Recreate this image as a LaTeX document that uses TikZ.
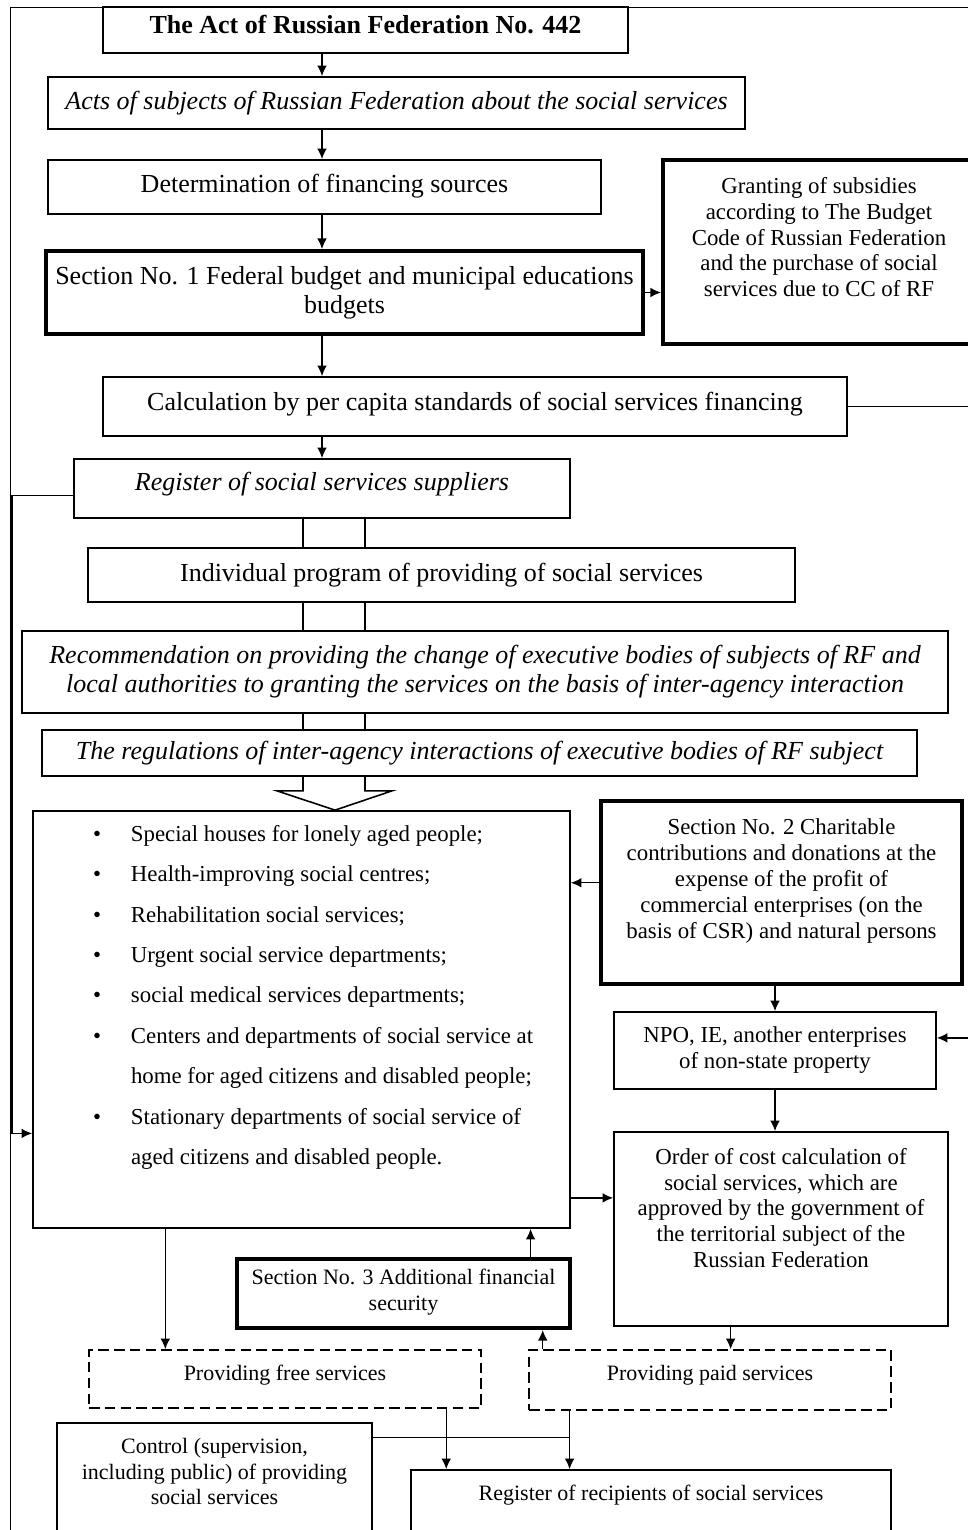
\documentclass[tikz,border=0pt]{standalone}
\usepackage{fontspec}
\setmainfont{Liberation Serif}
\usetikzlibrary{arrows.meta}
\usetikzlibrary{calc}

\newlength\pxu
\setlength\pxu{0.02cm}
\newcommand\mainsize{\fontsize{14.8}{16.5}\selectfont}
\newcommand\sidesize{\fontsize{13}{14.7}\selectfont}
\newcommand\smallsize{\fontsize{12.5}{14.5}\selectfont}
\newcommand\listsize{\fontsize{13}{23}\selectfont}
\newcommand\lift[1]{\rule[-#1]{0pt}{0pt}}

\tikzset{
    frame line/.style={
        line width=0.5pt,
    },
    plain box/.style={
        draw,
        line width=1pt,
        inner sep=1pt,
        align=center,
        font=\mainsize,
    },
    italic box/.style={
        plain box,
        font=\itshape\mainsize,
    },
    thick box/.style={
        plain box,
        line width=2.3pt,
    },
    dashed box/.style={
        plain box,
        line width=1pt,
        dash pattern=on 6pt off 3pt,
        font=\smallsize,
    },
    list box/.style={
        draw,
        line width=1pt,
        inner sep=0pt,
        font=\listsize,
    },
    box size/.style 2 args={
        minimum width=#1*\pxu,
        minimum height=#2*\pxu,
    },
    link/.style={
        line width=0.7pt,
    },
    flow/.style={
        link,
        -{Latex[length=6pt,width=5.5pt]},
    },
}

\begin{document}
\begin{tikzpicture}[x=0.02cm, y=-0.02cm]

    \useasboundingbox (0,0) rectangle (967,1530);

    \draw[frame line] (10,1540) -- (10,7) -- (980,7);

    \node[plain box, box size={525}{46}, font=\bfseries\mainsize] (act) at (365.5,30)
        {The Act of Russian Federation No. 442\lift{6pt}};
    \node[italic box, box size={697}{52}] (acts) at (396.5,103)
        {Acts of subjects of Russian Federation about the social services\lift{2pt}};
    \node[plain box, box size={553}{54}] (determ) at (324.5,187)
        {Determination of financing sources\lift{4.5pt}};
    \node[thick box, box size={597}{83}] (sec1) at (344.5,292.5)
        {Section No. 1 Federal budget and municipal educations\\ budgets};
    \node[thick box, box size={312}{184}, font=\sidesize] (grant) at (819,252)
        {Granting of subsidies\\ according to The Budget\\ Code of Russian Federation\\
         and the purchase of social\\ services due to CC of RF\lift{17pt}};
    \node[plain box, box size={744}{59}] (calc) at (475,406.5)
        {Calculation by per capita standards of social services financing\lift{6pt}};
    \node[italic box, box size={496}{59}] (regsup) at (322,488.5)
        {Register of social services suppliers\lift{8.5pt}};
    \node[plain box, box size={707}{54}] (indiv) at (441.5,575)
        {Individual program of providing of social services\lift{3pt}};
    \node[italic box, box size={926}{82}] (recom) at (485,672)
        {Recommendation on providing the change of executive bodies of subjects of RF and\\
         local authorities to granting the services on the basis of inter-agency interaction};
    \node[italic box, box size={875}{46}] (regul) at (479.5,753)
        {The regulations of inter-agency interactions of executive bodies of RF subject};

    \node[list box, box size={537}{417}] (main) at (301.5,1019.5) {%
        \begin{tabular}{@{\hspace{60\pxu}}p{38\pxu}@{}p{439\pxu}@{}}
        \textbullet & Special houses for lonely aged people;\\
        \textbullet & Health-improving social centres;\\
        \textbullet & Rehabilitation social services;\\
        \textbullet & Urgent social service departments;\\
        \textbullet & social medical services departments;\\
        \textbullet & Centers and departments of social service at\\
                    & home for aged citizens and disabled people;\\
        \textbullet & Stationary departments of social service of\\
                    & aged citizens and disabled people.\\[28pt]
        \end{tabular}};

    \node[thick box, box size={361}{183}, font=\sidesize] (sec2) at (781.5,892.5)
        {Section No. 2 Charitable\\ contributions and donations at the\\ expense of the profit of\\
         commercial enterprises (on the\\ basis of CSR) and natural persons\lift{16pt}};
    \node[plain box, box size={322}{77}, font=\sidesize] (npo) at (775,1050.5)
        {NPO, IE, another enterprises\\ of non-state property\lift{3pt}};
    \node[plain box, box size={334}{194}, font=\sidesize] (order) at (781,1229)
        {Order of cost calculation of\\ social services, which are\\ approved by the government of\\
         the territorial subject of the\\ Russian Federation\lift{24pt}};
    \node[thick box, box size={333}{69}, font=\smallsize] (sec3) at (403.5,1293.5)
        {Section No. 3 Additional financial\\ security\lift{4pt}};
    \node[dashed box, box size={392}{58}] (free) at (285,1379)
        {Providing free services\lift{7pt}};
    \node[dashed box, box size={362}{60}] (paid) at (710,1380)
        {Providing paid services\lift{8pt}};
    \node[plain box, box size={315}{122}, font=\smallsize] (control) at (214.5,1484)
        {Control (supervision,\\ including public) of providing\\ social services\lift{14pt}};
    \node[plain box, box size={480}{75}, font=\smallsize] (recip) at (651,1507.5)
        {Register of recipients of social services\lift{16.5pt}};

    \coordinate (spine) at (322,0);
    \coordinate (rail) at (975,0);
    \coordinate (leftrail) at (12,0);
    \coordinate (pl) at (303,0);
    \coordinate (pr) at (365,0);
    \coordinate (tip) at (335,0);

    \foreach \a/\b in {act/acts, acts/determ, determ/sec1, sec1/calc, calc/regsup}
    {
        \draw[flow] (\a.south -| spine) -- (\b.north -| spine);
    }

    \draw[flow] (sec1.east) -- (sec1.east -| grant.west);

    \foreach \p in {pl,pr}
    {
        \foreach \a/\b in {regsup/indiv, indiv/recom, recom/regul}
        {
            \draw[link] (\a.south -| \p) -- (\b.north -| \p);
        }
    }

    \draw[link, line width=0.9pt] (pl |- regul.south) -- ++(0,14) -- ++(-26,0)
        -- (tip |- main.north) -- ($(pr |- regul.south)+(27,14)$) -- ++(-27,0)
        -- (pr |- regul.south);

    \coordinate (regout) at ($(regsup.north west)!0.61!(regsup.south west)$);
    \coordinate (mainin) at ($(main.north west)!0.772!(main.south west)$);
    \draw[flow] (regout) -- (regout -| leftrail) -- (mainin -| leftrail) -- (mainin);

    \coordinate (npoin) at ($(npo.north east)!0.34!(npo.south east)$);
    \draw[flow] (calc.east) -- (calc.east -| rail) -- (npoin -| rail) -- (npoin);

    \coordinate (sec2out) at ($(sec2.north west)!0.448!(sec2.south west)$);
    \draw[flow] (sec2out) -- (sec2out -| main.east);
    \draw[flow] (npo.north |- sec2.south) -- (npo.north);
    \draw[flow] (npo.south) -- (npo.south |- order.north);

    \coordinate (mainout) at ($(main.north east)!0.926!(main.south east)$);
    \draw[flow] (mainout) -- (mainout -| order.west);

    \coordinate (freein) at ($(free.north west)!0.196!(free.north east)$);
    \draw[flow] (freein |- main.south) -- (freein);

    \coordinate (sec3out) at ($(sec3.north west)!0.877!(sec3.north east)$);
    \draw[flow] (sec3out) -- (sec3out |- main.south);

    \coordinate (sec3in) at ($(sec3.south west)!0.913!(sec3.south east)$);
    \draw[flow] (sec3in |- paid.north) -- (sec3in);

    \coordinate (paidin) at ($(order.south west)!0.35!(order.south east)$);
    \draw[flow] (paidin) -- (paidin |- paid.north);

    \coordinate (recipa) at ($(recip.north west)!0.075!(recip.north east)$);
    \coordinate (recipb) at ($(recip.north west)!0.331!(recip.north east)$);
    \draw[flow] (recipa |- free.south) -- (recipa);
    \draw[flow] (recipb |- paid.south) -- (recipb);

    \coordinate (ctrlout) at ($(control.north east)!0.123!(control.south east)$);
    \draw[link] (ctrlout) -- (ctrlout -| recipb);

\end{tikzpicture}
\end{document}
